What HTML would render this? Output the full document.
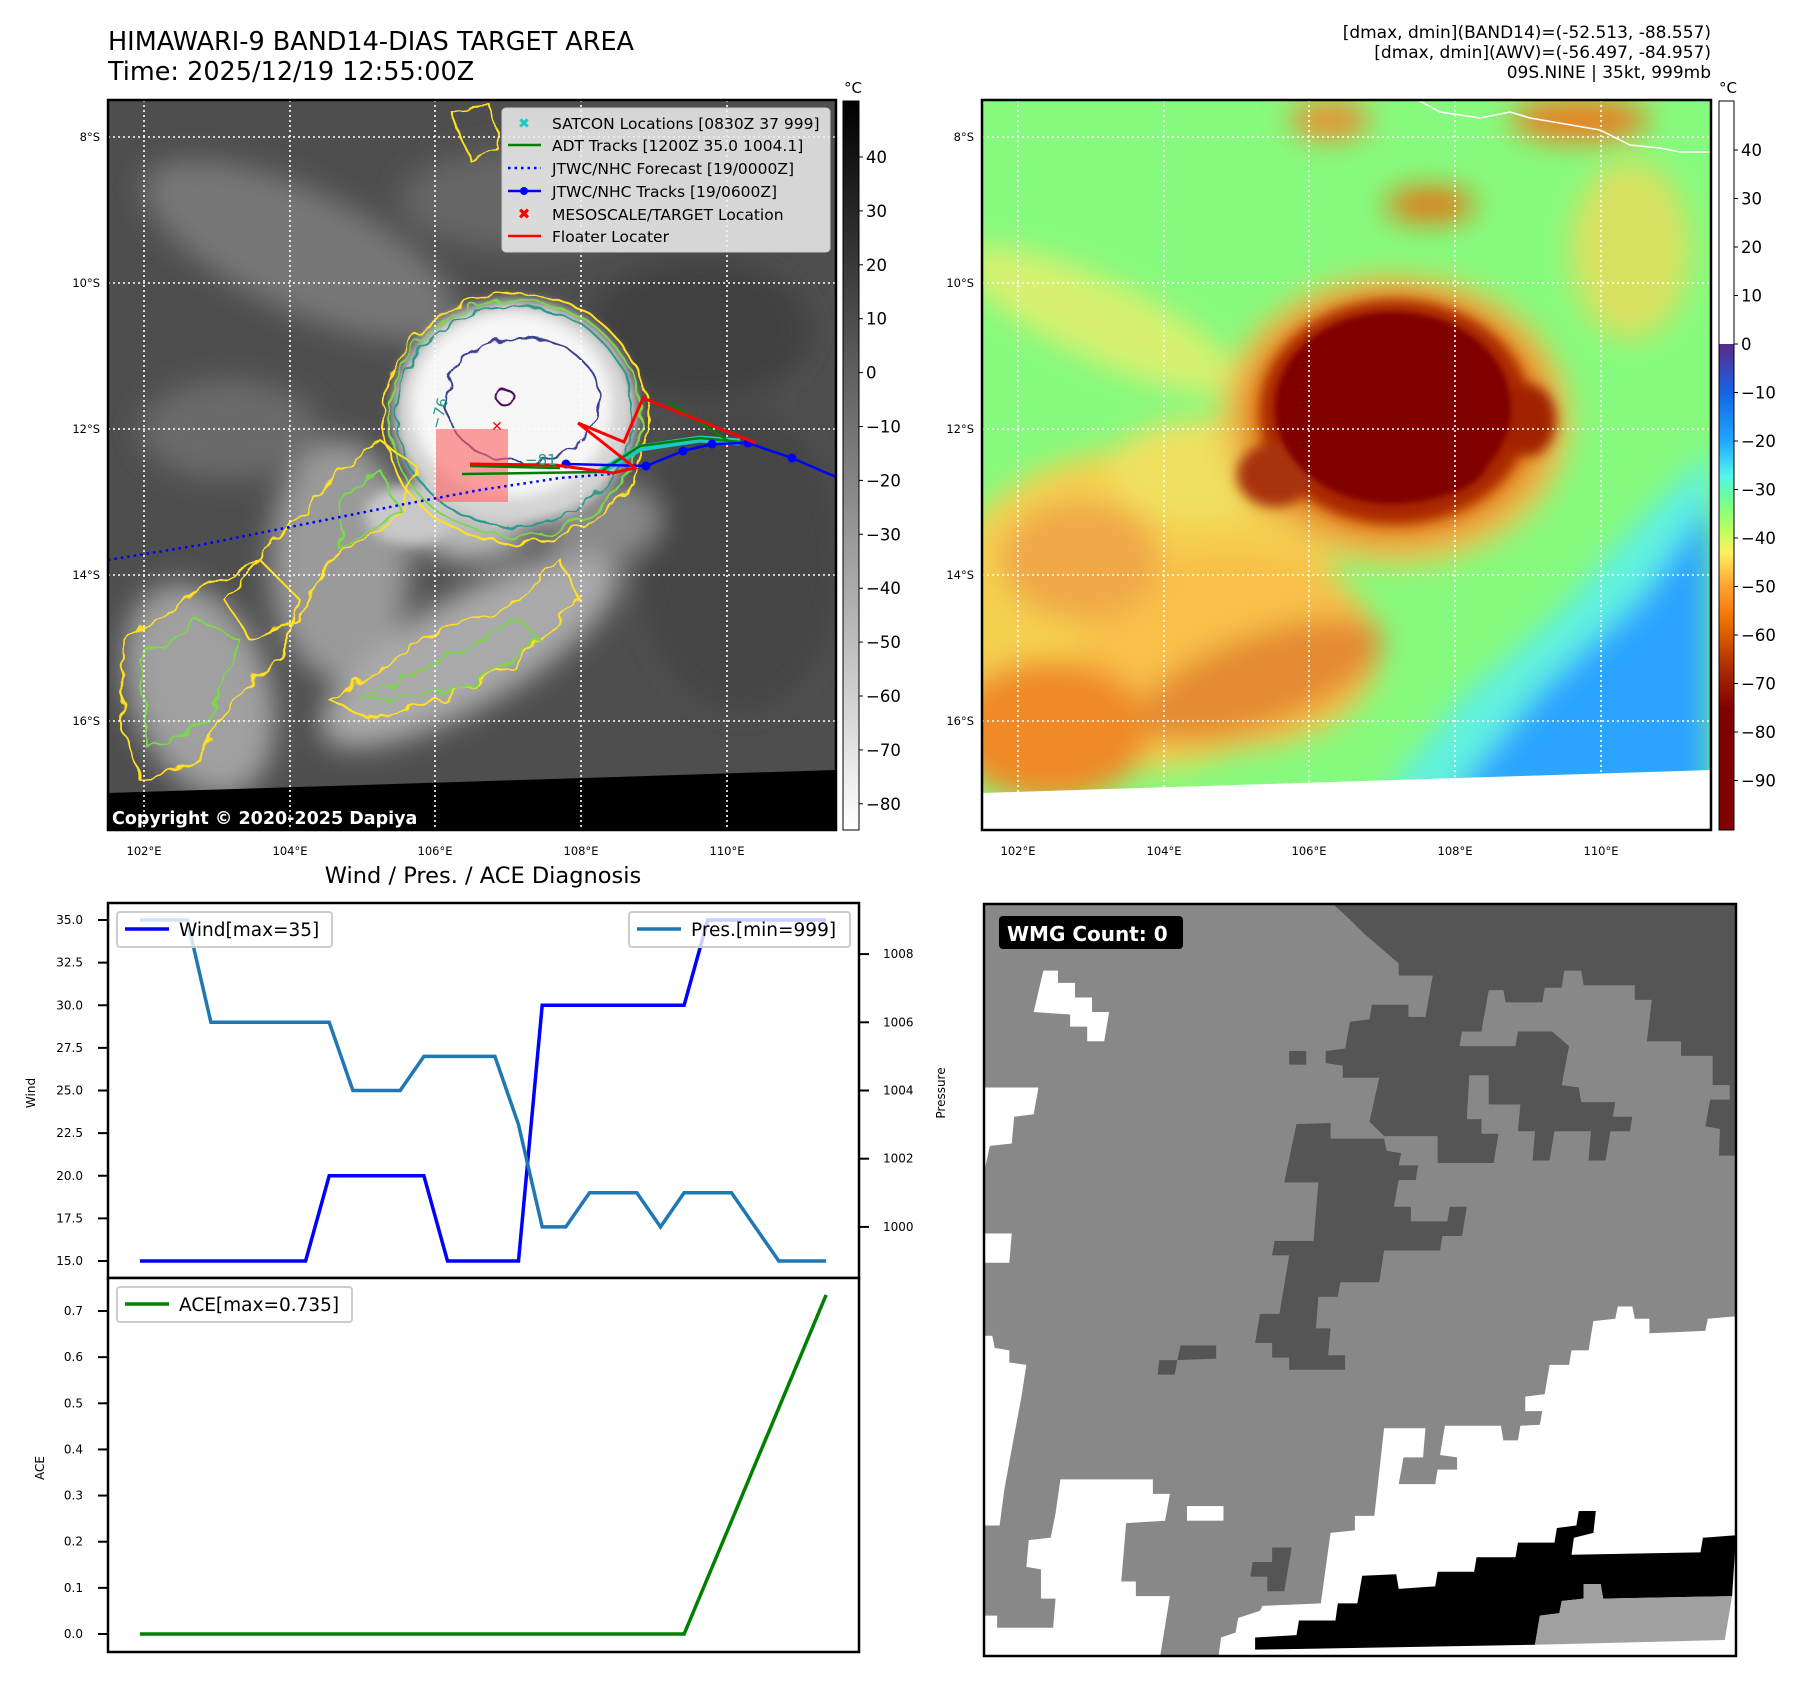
<!DOCTYPE html>
<html><head><meta charset="utf-8">
<style>
html,body{margin:0;padding:0;background:#fff;}
body{width:1801px;height:1690px;overflow:hidden;font-family:"DejaVu Sans","Liberation Sans",sans-serif;}
svg text{font-family:"DejaVu Sans","Liberation Sans",sans-serif;}
</style></head>
<body>
<svg id="root" width="1801" height="1690" viewBox="0 0 1801 1690" xmlns="http://www.w3.org/2000/svg">
<defs>
  <clipPath id="clip1"><rect x="108" y="100" width="728" height="730"/></clipPath>
  <clipPath id="clip2"><rect x="982" y="100" width="729" height="730"/></clipPath>
  <filter id="b14" x="-50%" y="-50%" width="200%" height="200%"><feGaussianBlur stdDeviation="14"/></filter>
  <filter id="b6" x="-50%" y="-50%" width="200%" height="200%"><feGaussianBlur stdDeviation="6"/></filter>
  <filter id="b3" x="-50%" y="-50%" width="200%" height="200%"><feGaussianBlur stdDeviation="3"/></filter>
  <filter id="rough" x="-10%" y="-10%" width="120%" height="120%"><feTurbulence type="fractalNoise" baseFrequency="0.05" numOctaves="2" seed="3"/><feDisplacementMap in="SourceGraphic" scale="14"/></filter>
  <linearGradient id="cb1" x1="0" y1="0" x2="0" y2="1">
    <stop offset="0" stop-color="#000"/><stop offset="1" stop-color="#fff"/>
  </linearGradient>
  <linearGradient id="cb2" x1="0" y1="0" x2="0" y2="1">
    <stop offset="0" stop-color="#5b2a8c"/>
    <stop offset="0.1" stop-color="#1464e6"/>
    <stop offset="0.2" stop-color="#1fa8ff"/>
    <stop offset="0.27" stop-color="#50f5f0"/>
    <stop offset="0.32" stop-color="#70ff90"/>
    <stop offset="0.38" stop-color="#b8ff60"/>
    <stop offset="0.43" stop-color="#fff060"/>
    <stop offset="0.5" stop-color="#ffa030"/>
    <stop offset="0.57" stop-color="#f07000"/>
    <stop offset="0.66" stop-color="#b03000"/>
    <stop offset="0.75" stop-color="#800000"/>
    <stop offset="1" stop-color="#800000"/>
  </linearGradient>
</defs>

<!-- Titles -->
<text x="108" y="50" font-size="25.5" fill="#000">HIMAWARI-9 BAND14-DIAS TARGET AREA</text>
<text x="108" y="80" font-size="25.5" fill="#000">Time: 2025/12/19 12:55:00Z</text>
<g font-size="17" text-anchor="end" fill="#000">
  <text x="1711" y="38">[dmax, dmin](BAND14)=(-52.513, -88.557)</text>
  <text x="1711" y="58">[dmax, dmin](AWV)=(-56.497, -84.957)</text>
  <text x="1711" y="78">09S.NINE | 35kt, 999mb</text>
</g>

<!-- ============ MAP 1 ============ -->
<g clip-path="url(#clip1)">
  <rect x="108" y="100" width="728" height="730" fill="#4e4e4e"/>
  <g filter="url(#b14)">
    <ellipse cx="300" cy="250" rx="170" ry="60" transform="rotate(25 300 250)" fill="#777"/>
    <ellipse cx="520" cy="200" rx="120" ry="50" fill="#666"/>
    <ellipse cx="700" cy="330" rx="110" ry="70" fill="#404040"/>
    <ellipse cx="740" cy="560" rx="100" ry="150" fill="#454545"/>
    <ellipse cx="230" cy="430" rx="90" ry="50" fill="#6a6a6a"/>
    <ellipse cx="340" cy="560" rx="70" ry="120" fill="#9a9a9a"/>
    <ellipse cx="470" cy="650" rx="170" ry="55" transform="rotate(-30 470 650)" fill="#aaa"/>
    <ellipse cx="200" cy="690" rx="70" ry="110" transform="rotate(-20 200 690)" fill="#a0a0a0"/>
    <ellipse cx="600" cy="520" rx="60" ry="40" fill="#8a8a8a"/>
    <ellipse cx="470" cy="520" rx="60" ry="40" fill="#bbb"/>
  </g>
  <g filter="url(#b6)">
    <ellipse cx="515" cy="412" rx="122" ry="112" fill="#d4d4d4"/>
    <ellipse cx="512" cy="405" rx="100" ry="92" fill="#f6f6f6"/>
    <ellipse cx="410" cy="515" rx="45" ry="30" fill="#c8c8c8"/>
  </g>
  <g fill="none" stroke-width="2" filter="url(#rough)">
    <ellipse cx="515" cy="418" rx="132" ry="125" stroke="#ffe020"/>
    <ellipse cx="515" cy="418" rx="126" ry="118" stroke="#7ad84a"/>
    <ellipse cx="515" cy="416" rx="118" ry="110" stroke="#2a9a8a"/>
    <ellipse cx="522" cy="400" rx="78" ry="62" stroke="#3a3f8f"/>
    <ellipse cx="506" cy="398" rx="10" ry="6" stroke="#4a1060"/>
    <path d="M330 480 L380 440 L420 470 L395 520 L330 560 L300 620 L250 640 L225 600 L260 560 Z" stroke="#ffe020"/>
    <path d="M340 500 L380 470 L400 510 L340 550 Z" stroke="#7ad84a"/>
    <path d="M125 640 L200 590 L260 560 L300 600 L280 660 L230 700 L200 760 L140 780 L120 720 Z" stroke="#ffe020"/>
    <path d="M140 660 L200 620 L240 640 L210 720 L150 750 Z" stroke="#7ad84a"/>
    <path d="M330 700 L420 640 L520 600 L560 560 L580 600 L520 660 L440 700 L370 720 Z" stroke="#ffe020"/>
    <path d="M360 700 L440 660 L520 620 L540 640 L460 690 Z" stroke="#7ad84a"/>
    <path d="M450 110 L490 105 L500 150 L470 160 Z" stroke="#ffe020"/>
  </g>
  <polygon points="108,793 836,770 836,830 108,830" fill="#000"/>
  <g stroke="#fff" stroke-width="1.6" stroke-dasharray="2,3">
    <line x1="144" y1="100" x2="144" y2="830"/><line x1="290" y1="100" x2="290" y2="830"/>
    <line x1="435" y1="100" x2="435" y2="830"/><line x1="581" y1="100" x2="581" y2="830"/>
    <line x1="727" y1="100" x2="727" y2="830"/>
    <line x1="108" y1="137" x2="836" y2="137"/><line x1="108" y1="283" x2="836" y2="283"/>
    <line x1="108" y1="429" x2="836" y2="429"/><line x1="108" y1="575" x2="836" y2="575"/>
    <line x1="108" y1="721" x2="836" y2="721"/>
  </g>
  <rect x="436" y="429" width="72" height="73" fill="#ff6060" fill-opacity="0.6"/>
  <polyline points="108,560 200,545 300,525 400,505 480,490 560,478 610,474" fill="none" stroke="#0000ff" stroke-width="2.5" stroke-dasharray="2.5,4"/>
  <path d="M600 472 L640 448 L700 439 L740 442" fill="none" stroke="#1ec8c8" stroke-width="7"/>
  <g fill="none" stroke="#008000" stroke-width="2.5">
    <polyline points="462,474 600,472 640,446 700,438 740,442"/>
    <polyline points="470,466 560,468"/>
    <line x1="668" y1="402" x2="730" y2="442"/>
  </g>
  <g>
    <polyline points="566,464 646,466 683,451 712,444 748,443 792,458 836,477" fill="none" stroke="#0000ff" stroke-width="2.5"/>
    <circle cx="566" cy="464" r="4.5" fill="#0000ff"/><circle cx="646" cy="466" r="4.5" fill="#0000ff"/>
    <circle cx="683" cy="451" r="4.5" fill="#0000ff"/><circle cx="712" cy="444" r="4.5" fill="#0000ff"/>
    <circle cx="748" cy="443" r="4.5" fill="#0000ff"/><circle cx="792" cy="458" r="4.5" fill="#0000ff"/>
  </g>
  <g fill="none" stroke="#ff0000" stroke-width="3">
    <polyline points="470,464 555,465 613,473 635,468 578,423"/>
    <polyline points="578,423 624,442 643,398 756,443"/>
  </g>
  <text x="497" y="431" font-size="14" font-weight="bold" fill="#ff0000" text-anchor="middle">✕</text>
  <g font-size="15" fill="#2a9a8a"><text x="440" y="430" transform="rotate(-75 440 430)">−76</text><text x="525" y="465">−81</text></g>
  <text x="112" y="824" font-size="17.5" font-weight="bold" fill="#fff">Copyright © 2020-2025 Dapiya</text>
</g>
<rect x="108" y="100" width="728" height="730" fill="none" stroke="#000" stroke-width="2.5"/>

<!-- Map1 legend -->
<g>
  <rect x="502" y="108" width="328" height="144" rx="4" fill="#eee" fill-opacity="0.85" stroke="#ccc"/>
  <text x="524" y="128" font-size="14" font-weight="bold" fill="#1ec8c8" text-anchor="middle">✖</text>
  <line x1="508" y1="145" x2="541" y2="145" stroke="#008000" stroke-width="2.5"/>
  <line x1="508" y1="168" x2="541" y2="168" stroke="#0000ff" stroke-width="2.5" stroke-dasharray="2.5,4"/>
  <line x1="508" y1="191" x2="541" y2="191" stroke="#0000ff" stroke-width="2.5"/><circle cx="524" cy="191" r="4" fill="#0000ff"/>
  <text x="524" y="219" font-size="15" font-weight="bold" fill="#ff0000" text-anchor="middle">✖</text>
  <line x1="508" y1="236" x2="541" y2="236" stroke="#ff0000" stroke-width="2.5"/>
  <g font-size="15.5" fill="#000">
    <text x="552" y="129">SATCON Locations [0830Z 37 999]</text>
    <text x="552" y="151">ADT Tracks [1200Z 35.0 1004.1]</text>
    <text x="552" y="174">JTWC/NHC Forecast [19/0000Z]</text>
    <text x="552" y="197">JTWC/NHC Tracks [19/0600Z]</text>
    <text x="552" y="220">MESOSCALE/TARGET Location</text>
    <text x="552" y="242">Floater Locater</text>
  </g>
</g>

<!-- Map1 axis labels -->
<g font-size="11.5" fill="#000" text-anchor="end">
  <text x="100" y="141">8°S</text><text x="100" y="287">10°S</text><text x="100" y="433">12°S</text>
  <text x="100" y="579">14°S</text><text x="100" y="725">16°S</text>
</g>
<g font-size="11.5" fill="#000" text-anchor="middle">
  <text x="144" y="855">102°E</text><text x="290" y="855">104°E</text><text x="435" y="855">106°E</text>
  <text x="581" y="855">108°E</text><text x="727" y="855">110°E</text>
</g>

<!-- Colorbar 1 -->
<g>
  <rect x="843" y="101" width="16" height="729" fill="url(#cb1)" stroke="#000" stroke-width="1"/>
  <text x="853" y="93" font-size="15" text-anchor="middle">°C</text>
  <g id="cb1ticks" font-size="16.5" fill="#000"></g>
</g>

<!-- ============ MAP 2 ============ -->
<g clip-path="url(#clip2)">
  <rect x="982" y="100" width="729" height="730" fill="#86fa7e"/>
  <g filter="url(#b14)">
    <polygon points="1711,450 1711,800 1380,800 1460,700 1560,610 1640,520" fill="#60f0e0"/>
    <polygon points="1711,500 1711,800 1450,800 1540,690 1640,600" fill="#2aa4ff"/>
    <ellipse cx="1140" cy="610" rx="200" ry="160" fill="#f4d050"/>
    <ellipse cx="1230" cy="650" rx="150" ry="100" fill="#f8c048"/>
    <ellipse cx="1050" cy="730" rx="100" ry="70" fill="#f08a28"/>
    <ellipse cx="1260" cy="680" rx="130" ry="45" transform="rotate(-20 1260 680)" fill="#e48a30"/>
    <ellipse cx="1080" cy="560" rx="80" ry="60" fill="#f0a848"/>
    <ellipse cx="1100" cy="320" rx="150" ry="40" transform="rotate(25 1100 320)" fill="#d8f070"/>
    <ellipse cx="1200" cy="470" rx="90" ry="50" fill="#f0e060"/>
    <ellipse cx="1630" cy="250" rx="60" ry="90" fill="#d8e060"/>
    <ellipse cx="1430" cy="205" rx="45" ry="18" fill="#e07818"/>
    <ellipse cx="1330" cy="120" rx="40" ry="20" fill="#e89030"/>
    <ellipse cx="1580" cy="120" rx="70" ry="22" fill="#e88020"/>
    <ellipse cx="1395" cy="420" rx="175" ry="145" fill="#f0c050"/>
    <ellipse cx="1395" cy="415" rx="152" ry="124" fill="#e07810"/>
  </g>
  <g filter="url(#b6)">
    <ellipse cx="1395" cy="412" rx="135" ry="112" fill="#a82800"/>
    <ellipse cx="1528" cy="420" rx="28" ry="36" fill="#a02000"/>
    <ellipse cx="1275" cy="475" rx="38" ry="32" fill="#a83010"/>
  </g>
  <g filter="url(#b3)">
    <ellipse cx="1393" cy="408" rx="118" ry="96" fill="#800000"/>
    <ellipse cx="1410" cy="455" rx="80" ry="45" fill="#800000"/>
  </g>
  <polygon points="982,793 1711,770 1711,830 982,830" fill="#fff"/>
  <polyline points="1418,100 1440,112 1480,118 1510,112 1530,118 1600,130 1630,145 1660,148 1680,152 1711,152" fill="none" stroke="#fff" stroke-width="1.5"/>
  <g stroke="#fff" stroke-width="1.6" stroke-dasharray="2,3">
    <line x1="1018" y1="100" x2="1018" y2="830"/><line x1="1164" y1="100" x2="1164" y2="830"/>
    <line x1="1309" y1="100" x2="1309" y2="830"/><line x1="1455" y1="100" x2="1455" y2="830"/>
    <line x1="1601" y1="100" x2="1601" y2="830"/>
    <line x1="982" y1="137" x2="1711" y2="137"/><line x1="982" y1="283" x2="1711" y2="283"/>
    <line x1="982" y1="429" x2="1711" y2="429"/><line x1="982" y1="575" x2="1711" y2="575"/>
    <line x1="982" y1="721" x2="1711" y2="721"/>
  </g>
</g>
<rect x="982" y="100" width="729" height="730" fill="none" stroke="#000" stroke-width="2.5"/>
<g font-size="11.5" fill="#000" text-anchor="end">
  <text x="974" y="141">8°S</text><text x="974" y="287">10°S</text><text x="974" y="433">12°S</text>
  <text x="974" y="579">14°S</text><text x="974" y="725">16°S</text>
</g>
<g font-size="11.5" fill="#000" text-anchor="middle">
  <text x="1018" y="855">102°E</text><text x="1164" y="855">104°E</text><text x="1309" y="855">106°E</text>
  <text x="1455" y="855">108°E</text><text x="1601" y="855">110°E</text>
</g>

<!-- Colorbar 2 -->
<g>
  <rect x="1719" y="101" width="15" height="243" fill="#fff"/>
  <rect x="1719" y="344" width="15" height="486" fill="url(#cb2)"/>
  <rect x="1719" y="101" width="15" height="729" fill="none" stroke="#000" stroke-width="1"/>
  <text x="1728" y="93" font-size="15" text-anchor="middle">°C</text>
  <g id="cb2ticks" font-size="16.5" fill="#000"></g>
</g>

<!-- ============ CHART ============ -->
<text x="483" y="883" font-size="22.5" text-anchor="middle">Wind / Pres. / ACE Diagnosis</text>
<g id="chart"></g>

<!-- ============ WMG ============ -->
<g>
<svg x="984" y="904" width="752" height="752" viewBox="8 8 1545 1545" preserveAspectRatio="none">
  <rect x="8" y="8" width="1545" height="1545" fill="#888"/>
  <g fill="#555">
    <polygon points="725,8 760,40 790,70 825,100 860,130 860,155 930,155 915,240 880,240 880,215 805,215 800,245 760,250 750,305 710,310 710,335 745,340 745,365 820,365 800,455 830,485 940,485 940,540 1055,540 1065,480 1030,480 1030,450 1000,450 1005,360 1045,360 1045,420 1110,420 1105,475 1140,475 1135,535 1170,535 1180,475 1255,475 1250,535 1285,535 1295,475 1335,475 1340,445 1300,445 1305,415 1235,415 1230,385 1195,380 1210,300 1175,270 1105,270 1100,300 985,300 990,270 1030,270 1045,185 1075,185 1080,210 1155,210 1160,180 1195,180 1200,145 1235,145 1240,175 1345,175 1345,205 1380,205 1370,290 1440,290 1440,320 1505,320 1505,380 1540,380 1540,410 1500,410 1490,465 1520,470 1518,525 1553,525 1553,8"/>
    <polygon points="650,460 720,458 720,490 830,490 835,515 865,520 860,545 900,545 895,575 860,575 850,630 885,630 885,660 960,660 965,630 1000,630 990,690 950,690 945,720 830,720 820,785 740,785 735,815 695,815 690,880 720,880 715,935 750,935 750,965 635,965 635,940 600,940 600,910 565,910 575,850 615,850 635,730 600,730 605,700 685,700 695,580 625,580"/>
    <rect x="635" y="310" width="35" height="28"/>
    <polygon points="412,915 485,915 485,942 405,945 400,975 365,975 368,945 405,945"/>
    <polygon points="600,1330 640,1330 625,1420 590,1420 590,1390 555,1390 560,1360 600,1360"/>
  </g>
  <g fill="#fff">
    <polygon points="130,145 160,145 160,170 195,170 195,200 230,200 230,230 265,230 255,290 220,290 220,260 185,260 185,235 110,230"/>
    <polygon points="8,385 120,385 110,440 70,445 65,500 20,505 8,560"/>
    <polygon points="8,685 65,685 60,745 8,745"/>
    <polygon points="8,895 25,895 30,920 60,925 60,950 95,955 85,1020 70,1100 50,1210 40,1285 8,1285"/>
    <polygon points="165,1190 355,1190 355,1220 390,1220 380,1275 300,1280 290,1400 320,1400 320,1430 390,1430 370,1553 8,1553 8,1470 35,1470 35,1495 150,1495 155,1435 125,1435 125,1375 95,1370 100,1315 145,1310 155,1260"/>
    <rect x="425" y="1245" width="75" height="30"/>
    <polygon points="1310,835 1340,835 1345,860 1375,860 1375,890 1490,885 1495,860 1553,855 1553,1553 490,1553 495,1515 525,1505 530,1475 575,1460 580,1450 700,1445 720,1300 770,1295 770,1265 810,1265 830,1085 915,1085 910,1145 870,1145 860,1200 935,1200 940,1170 980,1170 980,1145 945,1140 955,1080 1070,1080 1075,1110 1105,1110 1110,1080 1150,1078 1155,1050 1120,1050 1120,1020 1160,1015 1170,955 1210,955 1215,925 1250,925 1260,865 1305,860"/>
  </g>
  <polygon fill="#000" points="565,1515 650,1510 655,1480 730,1480 735,1445 775,1445 785,1388 855,1385 860,1415 935,1410 940,1380 1015,1380 1020,1350 1100,1350 1105,1320 1180,1320 1185,1290 1225,1285 1230,1255 1265,1255 1260,1300 1220,1310 1215,1345 1480,1340 1485,1310 1553,1305 1545,1430 1280,1435 1275,1405 1240,1405 1240,1435 1195,1440 1190,1465 1150,1470 1140,1530 565,1540"/>
  <polygon fill="#a0a0a0" points="1150,1470 1190,1465 1195,1440 1240,1435 1240,1405 1275,1405 1280,1435 1545,1430 1530,1520 1140,1530"/>
</svg>
<rect x="984" y="904" width="752" height="752" fill="none" stroke="#000" stroke-width="2.5"/>
<rect x="999" y="916" width="184" height="33" rx="4" fill="#000"/>
<text x="1007" y="941" font-size="20" font-weight="bold" fill="#fff">WMG Count: 0</text>
</g>

<script>
// ---------- chart data ----------
const timeIndex = [0,1,2,3,4,5,6,7,8,9,10,11,12,13,14,15,16,17,18,19,20,21,22,23,24,25,26,27,28,29];
const windValues = [15,15,15,15,15,15,15,15,20,20,20,20,20,15,15,15,15,30,30,30,30,30,30,30,35,35,35,35,35,35];
const presValues = [1009,1009,1009,1006,1006,1006,1006,1006,1006,1004,1004,1004,1005,1005,1005,1005,1003,1000,1000,1001,1001,1001,1000,1001,1001,1001,1000,999,999,999];
const aceValues = [0,0,0,0,0,0,0,0,0,0,0,0,0,0,0,0,0,0,0,0,0,0,0,0,0.1225,0.245,0.3675,0.49,0.6125,0.735];
const windTicks = [15.0,17.5,20.0,22.5,25.0,27.5,30.0,32.5,35.0];
const presTicks = [1000,1002,1004,1006,1008];
const aceTicks = [0.0,0.1,0.2,0.3,0.4,0.5,0.6,0.7];
const cb1Ticks = [40,30,20,10,0,-10,-20,-30,-40,-50,-60,-70,-80];
const cb2Ticks = [40,30,20,10,0,-10,-20,-30,-40,-50,-60,-70,-80,-90];

const NS = 'http://www.w3.org/2000/svg';
function mk(tag, attrs, parent){ const e=document.createElementNS(NS,tag); for(const k in attrs) e.setAttribute(k,attrs[k]); parent.appendChild(e); return e; }
function fmtMinus(v){ return (v<0?'\u2212':'')+Math.abs(v); }

const AX = {l:108, r:859, t1:903, b1:1278, t2:1278, b2:1652};
const xMin=-1.35, xMax=30.39;
function xS(i){ return AX.l + (i-xMin)/(xMax-xMin)*(AX.r-AX.l); }
function yWind(v){ return 920 + (35-v)*17.05; }
function yPres(v){ return 920 + (1009-v)*34.1; }
function yAce(v){ return 1634 - v*461.4; }

const chart = document.getElementById('chart');
let f = mk('rect',{x:AX.l,y:AX.t1,width:AX.r-AX.l,height:AX.b1-AX.t1,fill:'#fff',stroke:'#000','stroke-width':2.5},chart);


f = mk('rect',{x:AX.l,y:AX.t2,width:AX.r-AX.l,height:AX.b2-AX.t2,fill:'#fff',stroke:'#000','stroke-width':2.5},chart);



windTicks.forEach(v=>{
  const y=yWind(v);
  mk('line',{x1:AX.l-10,y1:y,x2:AX.l,y2:y,stroke:'#000','stroke-width':2},chart);
  const t=mk('text',{x:AX.l-25,y:y+4,'font-size':12,'text-anchor':'end'},chart); t.textContent=v.toFixed(1);
  
  
});
presTicks.forEach(v=>{
  const y=yPres(v);
  mk('line',{x1:AX.r,y1:y,x2:AX.r+10,y2:y,stroke:'#000','stroke-width':2},chart);
  const t=mk('text',{x:AX.r+24,y:y+4,'font-size':12},chart); t.textContent=v;
  
  
});
aceTicks.forEach(v=>{
  const y=yAce(v);
  mk('line',{x1:AX.l-10,y1:y,x2:AX.l,y2:y,stroke:'#000','stroke-width':2},chart);
  const t=mk('text',{x:AX.l-25,y:y+4,'font-size':12,'text-anchor':'end'},chart); t.textContent=v.toFixed(1);
  
  
});
let at = mk('text',{x:35,y:1093,'font-size':12,'text-anchor':'middle',transform:'rotate(-90 35 1093)'},chart); at.textContent='Wind';


at = mk('text',{x:945,y:1093,'font-size':12,'text-anchor':'middle',transform:'rotate(-90 945 1093)'},chart); at.textContent='Pressure';


at = mk('text',{x:44,y:1468,'font-size':12,'text-anchor':'middle',transform:'rotate(-90 44 1468)'},chart); at.textContent='ACE';



function line(vals, yf, color, name){
  const pts = vals.map((v,i)=>xS(timeIndex[i]).toFixed(1)+','+yf(v).toFixed(1)).join(' ');
  const p = mk('polyline',{points:pts,fill:'none',stroke:color,'stroke-width':3.5,'stroke-linejoin':'miter'},chart);
  
  
}
line(windValues, yWind, '#0000ff', 'wind-line');
line(presValues, yPres, '#1f77b4', 'pressure-line');
line(aceValues, yAce, '#008000', 'ace-line');

function legend(x,y,w,color,label,name){
  const g = mk('g',{},chart);
  
  
  mk('rect',{x:x,y:y,width:w,height:35,rx:3,fill:'#fff','fill-opacity':0.8,stroke:'#ccc','stroke-width':2},g);
  mk('line',{x1:x+8,y1:y+17,x2:x+52,y2:y+17,stroke:color,'stroke-width':3.5},g);
  const t=mk('text',{x:x+62,y:y+24,'font-size':18.5},g); t.textContent=label;
}
legend(117,912,215,'#0000ff','Wind[max=35]','wind-legend');
legend(629,912,221,'#1f77b4','Pres.[min=999]','pressure-legend');
legend(117,1287,235,'#008000','ACE[max=0.735]','ace-legend');

const cb1g = document.getElementById('cb1ticks');
cb1Ticks.forEach(v=>{
  const y = 157 + (40-v)*5.39;
  mk('line',{x1:859,y1:y,x2:863,y2:y,stroke:'#000','stroke-width':1},cb1g);
  const t = mk('text',{x:866,y:y+6},cb1g); t.textContent=fmtMinus(v);
  
  
});
const cb2g = document.getElementById('cb2ticks');
cb2Ticks.forEach(v=>{
  const y = 150 + (40-v)*4.85;
  mk('line',{x1:1734,y1:y,x2:1738,y2:y,stroke:'#000','stroke-width':1},cb2g);
  const t = mk('text',{x:1741,y:y+6},cb2g); t.textContent=fmtMinus(v);
  
  
});
</script>
</svg>
</body></html>
